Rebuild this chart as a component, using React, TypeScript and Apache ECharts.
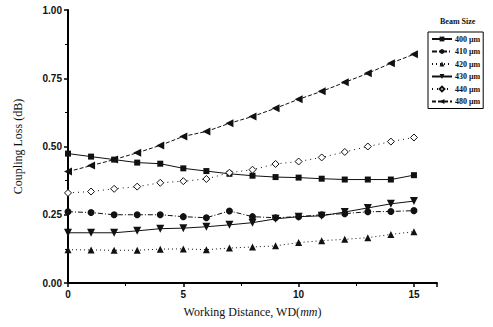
import React, { useEffect, useRef } from "react";
import * as echarts from "echarts";

const distances = [0, 1, 2, 3, 4, 5, 6, 7, 8, 9, 10, 11, 12, 13, 14, 15];
const loss400 = [0.474, 0.463, 0.452, 0.441, 0.437, 0.42, 0.41, 0.4, 0.393, 0.388, 0.386, 0.382, 0.379, 0.379, 0.379, 0.395];
const loss410 = [0.261, 0.258, 0.25, 0.25, 0.25, 0.243, 0.239, 0.264, 0.243, 0.239, 0.243, 0.25, 0.254, 0.261, 0.262, 0.265];
const loss420 = [0.122, 0.121, 0.12, 0.12, 0.124, 0.125, 0.122, 0.128, 0.132, 0.136, 0.148, 0.155, 0.16, 0.166, 0.178, 0.188];
const loss430 = [0.184, 0.184, 0.184, 0.191, 0.199, 0.201, 0.206, 0.213, 0.221, 0.235, 0.243, 0.246, 0.26, 0.275, 0.29, 0.3];
const loss440 = [0.33, 0.335, 0.345, 0.353, 0.367, 0.373, 0.381, 0.404, 0.415, 0.436, 0.445, 0.46, 0.48, 0.5, 0.518, 0.533];
const loss480 = [0.408, 0.43, 0.452, 0.477, 0.504, 0.537, 0.555, 0.585, 0.61, 0.64, 0.673, 0.702, 0.735, 0.768, 0.805, 0.838];
const beamSizes = ["400 μm", "410 μm", "420 μm", "430 μm", "440 μm", "480 μm"];
const yTicks = [0, 0.25, 0.5, 0.75, 1.0];

const serif = "Liberation Serif";
const sans = "Liberation Sans";

export default function App() {
  const ref = useRef<HTMLDivElement>(null);
  useEffect(() => {
    if (!ref.current) return;
    const chart = echarts.init(ref.current, undefined, { renderer: "svg" });
    const pair = (arr: number[]) => distances.map((d, i) => [d, arr[i]]);
    const styles = [
      { data: loss400, symbol: "rect", rotate: 0, type: "solid" as any, size: 6, fill: "#111" },
      { data: loss410, symbol: "circle", rotate: 0, type: [5, 2, 1, 2] as any, size: 7, fill: "#111" },
      { data: loss420, symbol: "triangle", rotate: 0, type: [1, 3] as any, size: 7, fill: "#111" },
      { data: loss430, symbol: "triangle", rotate: 180, type: "solid" as any, size: 8, fill: "#111" },
      { data: loss440, symbol: "diamond", rotate: 0, type: [1, 4] as any, size: 7, fill: "#fff" },
      { data: loss480, symbol: "triangle", rotate: 90, type: [4, 2] as any, size: 8, fill: "#111" },
    ];
    chart.setOption({
      animation: false,
      backgroundColor: "#fff",
      grid: { left: 68, right: 56, top: 10, bottom: 44, containLabel: false },
      legend: {
        orient: "vertical",
        left: 428,
        top: 32,
        data: beamSizes,
        itemWidth: 20,
        itemHeight: 6,
        itemGap: 4.5,
        padding: [3, 3, 3, 3],
        borderColor: "#000",
        borderWidth: 1,
        textStyle: { fontFamily: serif, fontSize: 8, fontWeight: "bold", color: "#111", padding: [0, 0, 0, -2] },
      },
      graphic: [
        {
          type: "text",
          left: 440,
          top: 17,
          style: { text: "Beam Size", font: `bold 8px ${serif}`, fill: "#111" },
        },
      ],
      xAxis: {
        type: "value",
        min: 0,
        max: 16,
        interval: 5,
        name: "Working Distance, WD({i|mm})",
        nameLocation: "middle",
        nameGap: 23,
        nameTextStyle: {
          fontFamily: serif,
          fontSize: 12,
          color: "#111",
          rich: { i: { fontFamily: serif, fontSize: 12, fontStyle: "italic", color: "#111" } },
        },
        axisLine: { onZero: false, lineStyle: { color: "#000", width: 2 } },
        axisTick: { inside: false, length: 4, lineStyle: { color: "#000", width: 1.5 } },
        minorTick: { show: true, splitNumber: 2, length: 3, lineStyle: { color: "#000" } },
        splitLine: { show: false },
        axisLabel: {
          fontFamily: sans,
          fontWeight: "bold",
          fontSize: 10,
          color: "#111",
          margin: 6,
          formatter: (v: number) => (v % 5 === 0 && v <= 15 ? String(v) : ""),
        },
      },
      yAxis: {
        type: "value",
        min: 0,
        max: 1,
        interval: 0.25,
        name: "Coupling Loss (dB)",
        nameLocation: "middle",
        nameGap: 44,
        nameTextStyle: { fontFamily: serif, fontSize: 12, color: "#111" },
        axisLine: { show: true, lineStyle: { color: "#000", width: 2 } },
        axisTick: { show: true, length: 4, lineStyle: { color: "#000", width: 1.5 } },
        minorTick: { show: true, splitNumber: 2, length: 3, lineStyle: { color: "#000" } },
        splitLine: { show: false },
        axisLabel: {
          fontFamily: sans,
          fontWeight: "bold",
          fontSize: 10,
          color: "#111",
          margin: 6,
          formatter: (v: number) => (yTicks.includes(v) ? v.toFixed(2) : ""),
        },
      },
      series: styles.map((s, i) => ({
        name: beamSizes[i],
        type: "line",
        data: pair(s.data),
        symbol: s.symbol,
        symbolSize: s.size,
        symbolRotate: s.rotate,
        lineStyle: { color: "#111", width: 1, type: s.type },
        itemStyle: { color: s.fill, borderColor: "#111", borderWidth: s.fill === "#fff" ? 1 : 0 },
      })),
    });
    return () => chart.dispose();
  }, []);
  return <div ref={ref} style={{ position: "fixed", left: 0, top: 0, width: 493, height: 327 }} />;
}
